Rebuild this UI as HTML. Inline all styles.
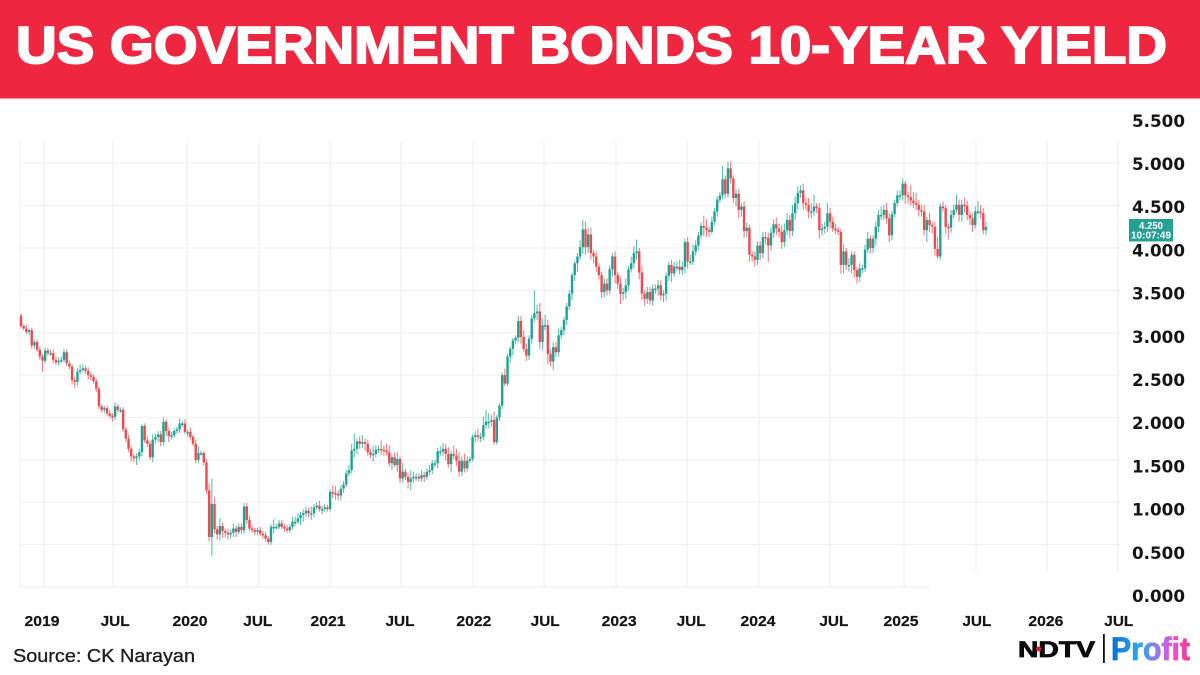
<!DOCTYPE html>
<html lang="en">
<head>
<meta charset="utf-8">
<title>US Government Bonds 10-Year Yield</title>
<style>
html,body{margin:0;padding:0;background:#fff;width:1200px;height:675px;overflow:hidden}
svg{display:block}
text{font-family:"Liberation Sans",sans-serif}
text.axis{font-family:"DejaVu Sans",sans-serif}
</style>
</head>
<body>
<svg id="chart" xmlns="http://www.w3.org/2000/svg" width="1200" height="675" viewBox="0 0 1200 675">
  <defs>
    <linearGradient id="profit-gradient" x1="0" x2="1" y1="0" y2="0">
      <stop offset="0" stop-color="#0a6fd8"/>
      <stop offset=".35" stop-color="#28a8ee"/>
      <stop offset=".6" stop-color="#9a78e6"/>
      <stop offset=".8" stop-color="#ee4fd2"/>
      <stop offset="1" stop-color="#f03a86"/>
    </linearGradient>
    <filter id="soft" x="-2%" y="-2%" width="104%" height="104%">
      <feGaussianBlur stdDeviation="0.35"/>
    </filter>
  </defs>
  <rect x="0" y="0" width="1200" height="675" fill="#ffffff"/>
  <rect x="0" y="0" width="1200" height="98.5" fill="#ef2640"/>
  <text x="16" y="63" font-size="52" font-weight="700" fill="#ffffff" stroke="#ffffff" stroke-width="2" textLength="1151" lengthAdjust="spacingAndGlyphs">US GOVERNMENT BONDS 10-YEAR YIELD</text>
  <g id="grid"></g>
  <g id="candles" filter="url(#soft)"></g>
  <g id="y-axis"></g>
  <g id="x-axis"></g>
  <g>
    <rect x="1129" y="219" width="44" height="22.5" fill="#26a093"/>
    <text x="1151" y="229" font-size="10" font-weight="700" fill="#ffffff" text-anchor="middle" textLength="24" lengthAdjust="spacingAndGlyphs">4.250</text>
    <text x="1151" y="238.5" font-size="10" font-weight="700" fill="#ffffff" text-anchor="middle" textLength="40" lengthAdjust="spacingAndGlyphs">10:07:49</text>
  </g>
  <text x="13" y="662" font-size="18" fill="#1c1c1c" stroke="#1c1c1c" stroke-width=".3" textLength="182" lengthAdjust="spacingAndGlyphs">Source: CK Narayan</text>
  <g>
    <text x="1018" y="657" font-size="22" font-weight="700" fill="#0b0b0b" stroke="#0b0b0b" stroke-width=".8" textLength="77" lengthAdjust="spacingAndGlyphs">NDTV</text>
    <circle cx="1038.7" cy="649" r="2.5" fill="#e8202e"/>
    <rect x="1103" y="634" width="1.8" height="29" fill="#111111"/>
    <text x="1111" y="660" font-size="32" font-weight="700" fill="url(#profit-gradient)" stroke="url(#profit-gradient)" stroke-width=".8" textLength="79" lengthAdjust="spacingAndGlyphs">Profit</text>
  </g>
</svg>
<script>
// Weekly closing yield (%)
const closes = [
3.08,3.05,3.01,3.03,2.85,2.89,2.80,2.72,2.67,2.79,
2.76,2.76,2.68,2.65,2.67,2.68,2.77,2.64,2.60,2.44,
2.42,2.54,2.56,2.58,2.55,2.50,2.48,2.43,2.34,2.13,
2.09,2.11,2.05,2.02,2.01,2.13,2.09,2.09,1.86,1.75,
1.63,1.54,1.52,1.54,1.59,1.90,1.73,1.69,1.53,1.74,
1.77,1.80,1.71,1.95,1.84,1.78,1.79,1.84,1.86,1.93,
1.93,1.83,1.83,1.77,1.69,1.50,1.58,1.58,1.47,1.14,
0.59,0.98,0.68,0.62,0.72,0.66,0.64,0.62,0.64,0.69,
0.65,0.71,0.67,0.95,0.79,0.69,0.67,0.65,0.67,0.63,
0.61,0.57,0.53,0.71,0.71,0.71,0.75,0.71,0.69,0.67,
0.71,0.77,0.77,0.81,0.85,0.87,0.90,0.87,0.87,0.94,
0.96,0.92,0.92,0.94,0.92,1.12,1.11,1.10,1.08,1.16,
1.21,1.34,1.38,1.61,1.63,1.72,1.69,1.71,1.69,1.59,
1.56,1.57,1.62,1.63,1.62,1.61,1.59,1.46,1.53,1.44,
1.51,1.28,1.36,1.30,1.24,1.28,1.30,1.30,1.28,1.32,
1.30,1.36,1.38,1.46,1.46,1.60,1.60,1.63,1.57,1.45,
1.57,1.55,1.49,1.36,1.49,1.40,1.49,1.51,1.77,1.79,
1.77,1.77,1.91,1.95,1.95,1.97,1.71,2.00,2.14,2.50,
2.40,2.72,2.81,2.91,2.94,3.14,2.95,2.81,2.73,2.93,
3.17,3.23,3.25,2.89,3.09,3.09,2.75,2.66,2.83,2.77,
2.97,3.03,3.15,3.31,3.46,3.68,3.82,3.90,4.01,4.22,
4.01,4.16,3.94,3.90,3.78,3.68,3.48,3.58,3.50,3.75,
3.90,3.68,3.58,3.46,3.48,3.56,3.75,3.82,3.94,3.96,
3.71,3.46,3.40,3.48,3.38,3.52,3.52,3.56,3.44,3.46,
3.67,3.80,3.70,3.78,3.78,3.74,3.78,4.07,3.84,3.84,
3.96,4.03,4.15,4.26,4.24,4.21,4.19,4.31,4.43,4.57,
4.62,4.81,4.64,4.94,4.82,4.59,4.64,4.45,4.49,4.20,
4.24,3.92,3.90,3.86,4.03,3.94,4.13,4.12,4.03,4.18,
4.28,4.23,4.19,4.07,4.21,4.33,4.20,4.41,4.53,4.65,
4.68,4.53,4.51,4.43,4.43,4.49,4.47,4.21,4.23,4.25,
4.41,4.31,4.23,4.21,4.19,3.80,3.96,3.80,3.80,3.92,
3.74,3.66,3.76,3.76,3.98,4.11,4.00,4.11,4.25,4.39,
4.39,4.45,4.35,4.15,4.40,4.53,4.62,4.62,4.76,4.62,
4.60,4.56,4.53,4.51,4.45,4.43,4.21,4.33,4.27,4.25,
3.99,3.90,4.49,4.47,4.25,4.24,4.39,4.45,4.51,4.39,
4.51,4.50,4.39,4.35,4.27,4.43,4.43,4.41,4.21,4.25
];
// First week's open (%)
const firstOpen = 3.20;
// How far each week's high rose above its body, in basis points
const upperWickBp = [
3,2,4,2,3,3,3,4,3,3,
3,4,4,4,4,4,4,3,3,3,
4,4,6,4,3,4,4,3,3,3,
3,3,3,4,3,5,3,3,3,3,
5,4,3,4,4,2,3,5,3,6,
4,4,4,5,3,4,4,3,3,6,
3,5,3,5,3,5,8,3,2,4,
8,30,8,4,9,4,3,5,4,6,
4,4,4,4,4,5,4,3,3,4,
3,4,3,3,9,4,4,4,3,4,
3,6,6,6,4,5,5,4,8,4,
4,6,4,4,3,3,8,8,4,4,
4,4,6,8,18,3,6,8,4,5,
4,10,5,4,10,5,8,8,4,6,
8,3,10,4,4,10,6,4,4,6,
4,4,6,4,4,4,6,7,6,8,
4,10,8,10,5,8,5,3,3,5,
8,5,10,14,10,6,10,3,3,3,
8,3,3,3,3,6,6,8,6,4,
4,27,8,10,8,12,6,6,6,6,
8,4,4,4,4,3,3,4,8,11,
9,8,8,4,6,4,4,6,6,4,
4,6,4,8,5,8,4,8,8,14,
4,8,4,6,6,5,5,6,6,4,
4,4,6,6,6,8,6,4,6,8,
8,6,4,4,12,10,4,6,4,4,
4,16,5,8,8,4,6,6,4,6,
6,4,5,6,5,5,6,6,6,6,
6,8,6,8,8,8,6,10,8,8,
6,8,6,8,10,14,4,6,6,6,
12,6,6,6,4,4,8,4,8,4,
4,4,6,4,6,8,4,4,6,6,
10,6,8,6,4,4,6,6,6,3,
4,14,10,12,6,6,8,4,8,4,
6,14,4,6,4,4,6,6,12,6,
6,8,6,4,6,6,12,8,6,6
];
// How far each week's low fell below its body, in basis points
const lowerWickBp = [
3,2,3,4,4,4,3,4,13,3,
3,3,4,3,4,3,3,3,3,5,
7,4,3,3,4,5,4,3,4,3,
3,4,3,3,6,4,3,4,3,4,
4,6,5,8,5,5,3,4,3,6,
5,6,5,4,6,7,4,3,3,4,
4,3,6,3,3,4,4,3,4,4,
5,22,5,6,7,8,5,6,5,5,
6,3,4,4,4,3,3,4,4,3,
4,3,3,3,8,3,3,3,4,3,
3,3,5,3,8,8,4,5,8,5,
3,3,6,3,3,3,6,7,6,6,
5,3,3,4,8,6,6,5,8,4,
4,8,4,4,6,6,4,4,8,3,
8,5,5,4,8,10,5,5,4,4,
6,4,4,5,5,6,5,6,8,4,
10,4,6,6,5,5,4,3,3,6,
5,6,4,4,8,6,3,3,4,4,
3,3,8,8,4,5,8,4,6,5,
6,4,8,8,10,6,12,6,10,6,
5,4,6,6,4,8,7,10,4,8,
9,7,8,8,6,5,7,6,6,5,
9,10,6,12,8,8,6,4,6,8,
8,8,8,6,5,6,6,8,6,8,
8,6,10,4,5,5,6,8,8,4,
4,5,5,4,10,8,6,3,4,6,
4,4,5,4,6,6,10,10,8,8,
7,8,6,8,6,8,6,8,20,6,
6,8,6,8,6,6,8,6,8,8,
6,8,6,8,8,5,6,10,6,6,
6,8,4,5,4,10,10,6,8,10,
8,8,6,6,4,4,6,6,8,6,
6,6,6,8,6,4,4,6,6,10,
8,6,6,6,8,6,6,14,8,8,
8,3,4,4,8,14,6,4,4,8,
8,8,6,8,8,4,4,6,5,6
];
// Y axis
const yTickValues = [5.5,5,4.5,4,3.5,3,2.5,2,1.5,1,0.5,0];
const yGridValues = [5,4.5,4,3.5,3,2.5,2,1.5,1,0.5];
// X axis, in candle-index units
const xGridIndexes = [8.6,34.2,61.8,88.5,115,141.4,168.2,194.6,221.4,247.8,274.6,301,328.5,355.3,381.7,408.1];
const xTickLabels = ["2019","JUL","2020","JUL","2021","JUL","2022","JUL","2023","JUL","2024","JUL","2025","JUL","2026","JUL"];
const xTickLabelIndexes = [7.8,35,62.9,88.1,114.2,141,168.5,195,222.5,249.3,274.2,302.4,327.4,355.6,381.3,408.4];

const NS = "http://www.w3.org/2000/svg";
const candleStep = (986 - 21) / (closes.length - 1);
function xScale(i) { return 21 + candleStep * i; }
function yScale(v) { return 587 - 84.75 * v; }
function yLabelScale(v) { return 596 - 86.4 * v; }

const gridGroup = document.getElementById("grid");
const candleGroup = document.getElementById("candles");
const yAxisGroup = document.getElementById("y-axis");
const xAxisGroup = document.getElementById("x-axis");

function makeLine(x1, y1, x2, y2, color, width) {
  const l = document.createElementNS(NS, "line");
  l.setAttribute("x1", x1);
  l.setAttribute("y1", y1);
  l.setAttribute("x2", x2);
  l.setAttribute("y2", y2);
  l.setAttribute("stroke", color);
  l.setAttribute("stroke-width", width);
  return l;
}

yGridValues.forEach(function (v) {
  const line = makeLine(20, yScale(v), 1120, yScale(v), "#f2f2f2", 1.3);
  
  
  gridGroup.appendChild(line);
});

const leftEdge = makeLine(20, 141, 20, 587, "#f0f0f0", 1.3);


gridGroup.appendChild(leftEdge);

xGridIndexes.forEach(function (idx) {
  const x = xScale(idx);
  const line = makeLine(x, 141, x, x < 930 ? 587 : 572, "#f0f0f0", 1.3);
  
  
  gridGroup.appendChild(line);
});

const baseLine = makeLine(20, yScale(0), 930, yScale(0), "#f0f0f0", 1.3);


gridGroup.appendChild(baseLine);

closes.forEach(function (close, i) {
  const open = i === 0 ? firstOpen : closes[i - 1];
  const up = close >= open;
  const color = up ? "#1fa394" : "#ee4a4f";
  const top = Math.max(open, close);
  const bottom = Math.min(open, close);
  const high = top + (upperWickBp[i] || 0) / 100;
  const low = bottom - (lowerWickBp[i] || 0) / 100;
  const x = xScale(i);

  const wick = makeLine(x, yScale(high), x, yScale(low), color, 1.1);
  wick.setAttribute("stroke-opacity", "0.7");
  
  
  candleGroup.appendChild(wick);

  const body = document.createElementNS(NS, "rect");
  body.setAttribute("x", x - 1.2);
  body.setAttribute("y", yScale(top));
  body.setAttribute("width", 2.4);
  body.setAttribute("height", Math.max(yScale(bottom) - yScale(top), 1.5));
  body.setAttribute("fill", color);
  
  
  candleGroup.appendChild(body);
});

yTickValues.forEach(function (v) {
  const t = document.createElementNS(NS, "text");
  t.setAttribute("class", "axis");
  t.setAttribute("x", 1132);
  t.setAttribute("y", yLabelScale(v) + 6);
  t.setAttribute("font-size", "16.5");
  t.setAttribute("font-weight", "700");
  t.setAttribute("fill", "#151515");
  t.setAttribute("textLength", "53");
  t.setAttribute("lengthAdjust", "spacingAndGlyphs");
  t.textContent = v.toFixed(3);
  
  
  yAxisGroup.appendChild(t);
});

xTickLabels.forEach(function (label, i) {
  const t = document.createElementNS(NS, "text");
  t.setAttribute("x", xScale(xTickLabelIndexes[i]));
  t.setAttribute("y", 626);
  t.setAttribute("text-anchor", "middle");
  t.setAttribute("font-size", "15");
  t.setAttribute("font-weight", "700");
  t.setAttribute("fill", "#151515");
  t.setAttribute("stroke", "#151515");
  t.setAttribute("stroke-width", "0.2");
  t.setAttribute("textLength", label === "JUL" ? "29" : "35");
  t.setAttribute("lengthAdjust", "spacingAndGlyphs");
  t.textContent = label;
  
  
  xAxisGroup.appendChild(t);
});
</script>
</body>
</html>
